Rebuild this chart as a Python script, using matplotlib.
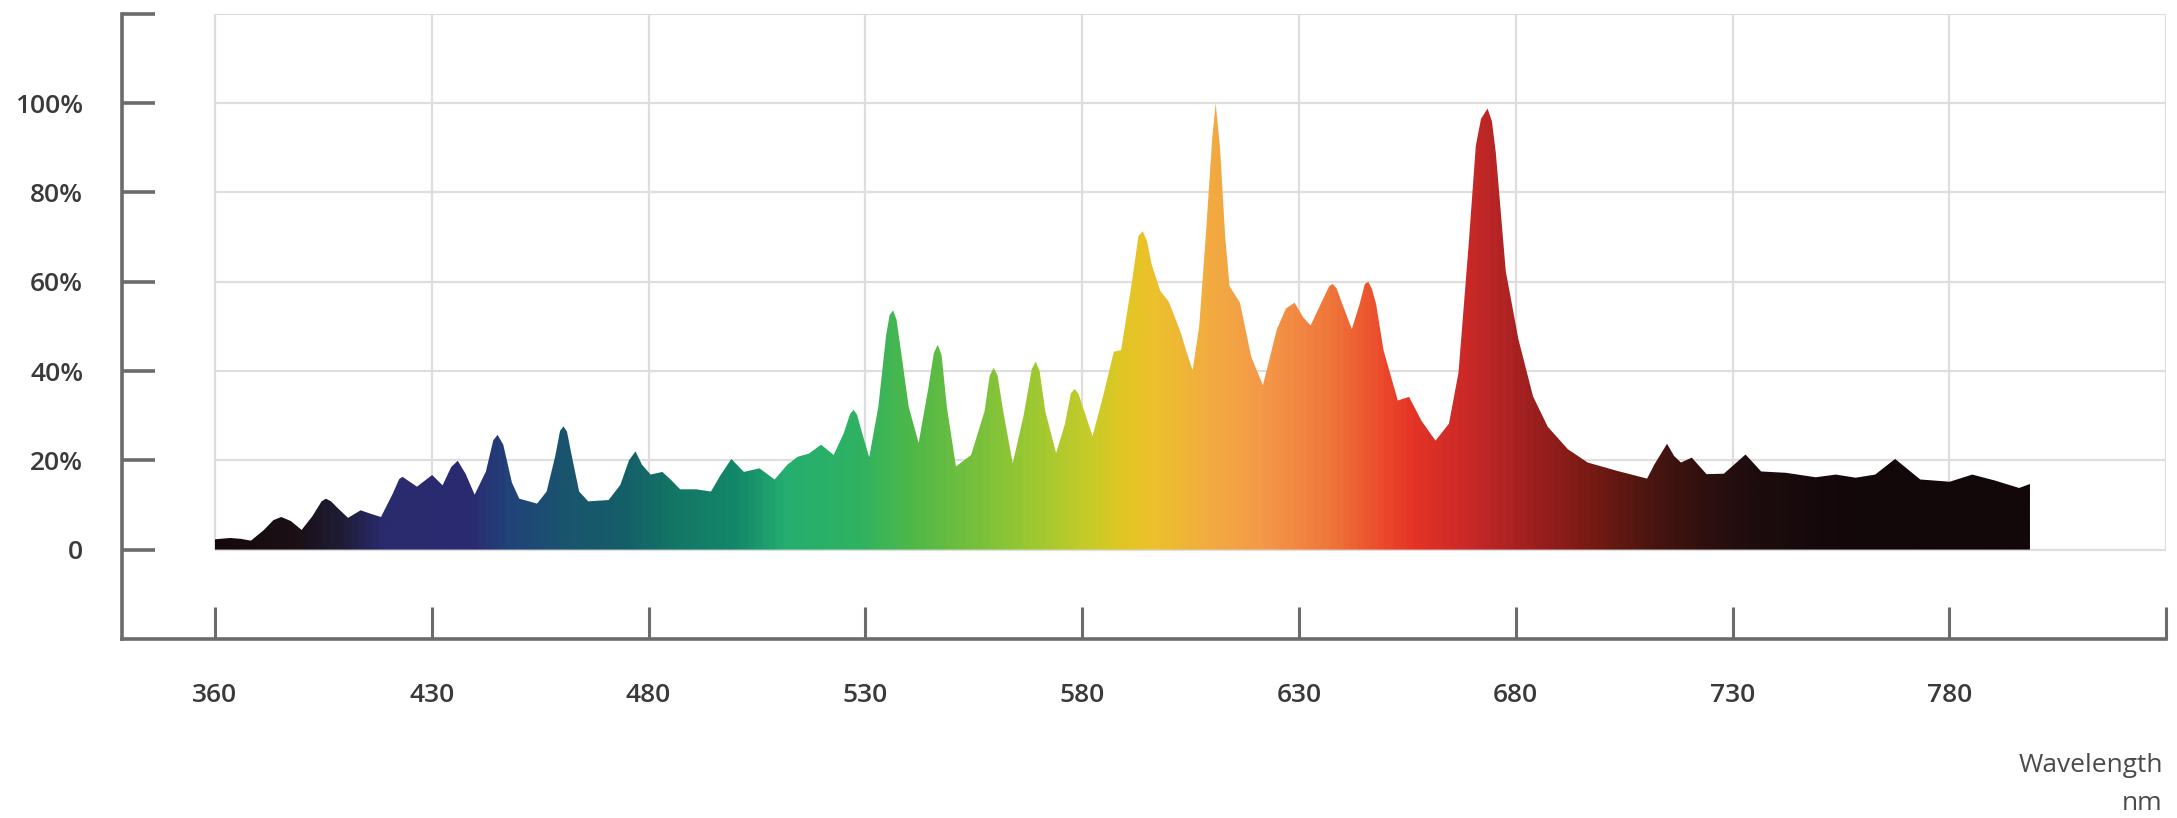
import numpy as np
import matplotlib
matplotlib.use('Agg')
import matplotlib.pyplot as plt
from matplotlib.colors import LinearSegmentedColormap

plt.rcParams['font.family'] = ['Open Sans', 'DejaVu Sans']

# spectrum (wavelength nm, relative intensity %)
nm = [380.0, 383.5, 386.0, 388.3, 391.2, 393.5, 395.3, 397.5, 400.0, 402.5,
      404.6, 405.6, 406.8, 408.0, 410.7, 413.6, 416.0, 418.3, 421.0, 422.5,
      423.3, 424.3, 426.6, 430.1, 432.5, 434.5, 436.0, 437.8, 439.9, 442.5,
      444.2, 445.2, 446.5, 448.5, 450.2, 454.3, 456.5, 458.5, 459.6, 460.4,
      461.2, 462.3, 464.0, 466.1, 470.8, 473.5, 475.5, 477.0, 478.5, 480.5,
      483.2, 485.3, 487.3, 491.0, 494.4, 496.5, 499.1, 502.0, 505.6, 509.1,
      512.0, 514.4, 517.0, 519.8, 522.7, 525.0, 526.5, 527.3, 528.1, 529.0,
      530.9, 533.0, 534.8, 535.6, 536.4, 537.2, 538.0, 540.0, 542.3, 544.5,
      545.8, 546.7, 547.6, 548.8, 550.9, 554.4, 557.5, 558.7, 559.6, 560.5,
      561.8, 564.0, 566.5, 568.4, 569.3, 570.2, 571.5, 574.0, 576.0, 577.4,
      578.3, 579.2, 580.5, 582.4, 585.0, 587.3, 589.0, 591.5, 593.0, 594.0,
      595.0, 596.0, 598.0, 600.0, 602.6, 604.5, 605.5, 607.0, 608.5, 610.0,
      610.8, 611.8, 613.0, 614.0, 616.4, 619.0, 621.7, 624.9, 627.0, 629.0,
      631.0, 632.7, 635.5, 637.0, 637.8, 638.7, 640.0, 642.2, 644.0, 645.2,
      646.0, 646.8, 647.8, 649.5, 652.8, 655.4, 658.3, 661.5, 664.6, 666.8,
      669.1, 670.8, 672.0, 673.5, 674.5, 675.4, 677.7, 680.6, 684.0, 687.4,
      692.0, 696.6, 703.5, 710.3, 712.0, 714.9, 716.5, 718.1, 720.6, 724.0,
      728.0, 733.0, 736.6, 742.3, 749.2, 753.8, 758.4, 762.9, 767.5, 773.3,
      780.1, 785.3, 790.4, 796.1, 798.6]
intensidade = [2.3, 2.6, 2.4, 2.0, 4.3, 6.6, 7.3, 6.4, 4.4, 7.5,
               10.8, 11.4, 10.8, 9.6, 7.1, 8.8, 8.0, 7.3, 12.5, 15.8,
               16.3, 15.6, 14.1, 16.7, 14.4, 18.5, 19.9, 17.0, 12.3, 17.5,
               24.5, 25.7, 23.5, 15.0, 11.4, 10.3, 13.0, 21.0, 26.6, 27.6,
               26.4, 21.0, 13.0, 10.8, 11.1, 14.5, 20.0, 22.0, 19.0, 16.8,
               17.4, 15.5, 13.5, 13.5, 13.0, 16.5, 20.3, 17.4, 18.2, 15.7,
               19.0, 20.8, 21.5, 23.5, 21.2, 26.0, 30.4, 31.3, 30.2, 27.0,
               20.7, 32.0, 48.0, 52.5, 53.6, 51.5, 46.0, 32.0, 23.9, 36.0,
               44.0, 45.9, 43.5, 32.0, 18.6, 21.2, 31.0, 39.0, 40.7, 39.0,
               31.0, 19.3, 30.0, 40.5, 42.1, 40.0, 31.0, 21.6, 28.0, 35.0,
               36.0, 34.8, 31.0, 25.4, 35.0, 44.3, 44.7, 60.0, 70.3, 71.3,
               69.0, 64.0, 58.0, 55.5, 49.0, 43.0, 40.2, 50.0, 70.0, 92.0,
               100.0, 90.0, 70.0, 59.0, 55.3, 43.2, 36.8, 49.3, 54.0, 55.3,
               52.0, 50.2, 56.0, 59.0, 59.5, 58.5, 55.0, 49.4, 55.0, 59.5,
               60.0, 58.5, 55.0, 44.7, 33.4, 34.2, 28.8, 24.4, 28.2, 39.6,
               67.7, 90.5, 96.5, 98.8, 96.0, 89.0, 62.4, 47.2, 34.3, 27.5,
               22.5, 19.5, 17.6, 15.9, 19.1, 23.7, 21.0, 19.5, 20.6, 16.9,
               17.0, 21.3, 17.5, 17.2, 16.2, 16.8, 16.1, 16.8, 20.3, 15.7,
               15.2, 16.8, 15.5, 13.8, 14.7]

# eixos
x_ticks = [380, 430, 480, 530, 580, 630, 680, 730, 780, 830]
x_labels = ['360', '430', '480', '530', '580', '630', '680', '730', '780', '']
y_ticks = [0, 20, 40, 60, 80, 100, 120]
y_labels = ['0', '20%', '40%', '60%', '80%', '100%', '']

# cores do espectro (posicao em nm, cor)
cor_nm = [380, 398, 408, 418, 438, 448, 460, 473, 487, 500, 511, 528, 541,
          555, 568, 582, 590, 597, 609, 622, 636, 649, 656, 670, 683, 697,
          710, 724, 737, 760, 800]
cores = ['#140a0c', '#1a1016', '#1e1c34', '#2a2a6e', '#2a2a72', '#214478',
         '#1a546e', '#155e68', '#137866', '#14886a', '#24ae70', '#2fb262',
         '#50b848', '#76c03c', '#9cc832', '#c8cc28', '#e2c624', '#ecc02c',
         '#f2ac40', '#f49848', '#f07a3c', '#ec4c2c', '#e63426', '#c82828',
         '#a02020', '#7a1a14', '#4e1610', '#2e100e', '#1c0c0e', '#120709',
         '#120709']

fig = plt.figure(figsize=(21.77, 8.18), dpi=100)
ax = fig.add_axes([0.0561, 0.219, 0.9389, 0.764])

x0, x1 = nm[0], nm[-1]
pos = [(c - x0) / (x1 - x0) for c in cor_nm]
pos = [min(max(p, 0.0), 1.0) for p in pos]
cmap = LinearSegmentedColormap.from_list('espectro', list(zip(pos, cores)))

# grade
grade = '#dedede'
ax.hlines(y_ticks, 380, 830, colors=grade, lw=1.6, zorder=0)
ax.vlines(x_ticks, 0, 120, colors=grade, lw=1.6, zorder=0)

# area do espectro preenchida com gradiente
poly = ax.fill_between(nm, intensidade, 0, color='none', lw=0)
gradiente = np.linspace(0, 1, 800).reshape(1, -1)
im = ax.imshow(gradiente, extent=[x0, x1, 0, 100], aspect='auto',
               cmap=cmap, origin='lower', zorder=2, interpolation='bilinear')
im.set_clip_path(poly.get_paths()[0], transform=ax.transData)

ax.set_xlim(358.6, 830)
ax.set_ylim(-20, 120)

cinza = '#6b6b6b'
for lado in ['top', 'right']:
    ax.spines[lado].set_visible(False)
for lado in ['left', 'bottom']:
    ax.spines[lado].set_color(cinza)
    ax.spines[lado].set_linewidth(2.6)

ax.set_xticks(x_ticks)
ax.set_xticklabels(x_labels, fontweight='semibold')
ax.set_yticks(y_ticks)
ax.set_yticklabels(y_labels, fontweight='semibold')
ax.tick_params(axis='y', direction='in', length=24, width=2.6, color=cinza,
               pad=28, labelsize=19, labelcolor='#3a3a3a')
ax.tick_params(axis='x', direction='in', length=23, width=2.2, color=cinza,
               pad=32, labelsize=19, labelcolor='#3a3a3a')

fig.text(0.9935, 1 - 766 / 818, 'Wavelength', ha='right', va='center',
         fontsize=19, color='#4a4a4a')
fig.text(0.9935, 1 - 803 / 818, 'nm', ha='right', va='center',
         fontsize=19, color='#4a4a4a')

fig.savefig('out.png', dpi=100)
